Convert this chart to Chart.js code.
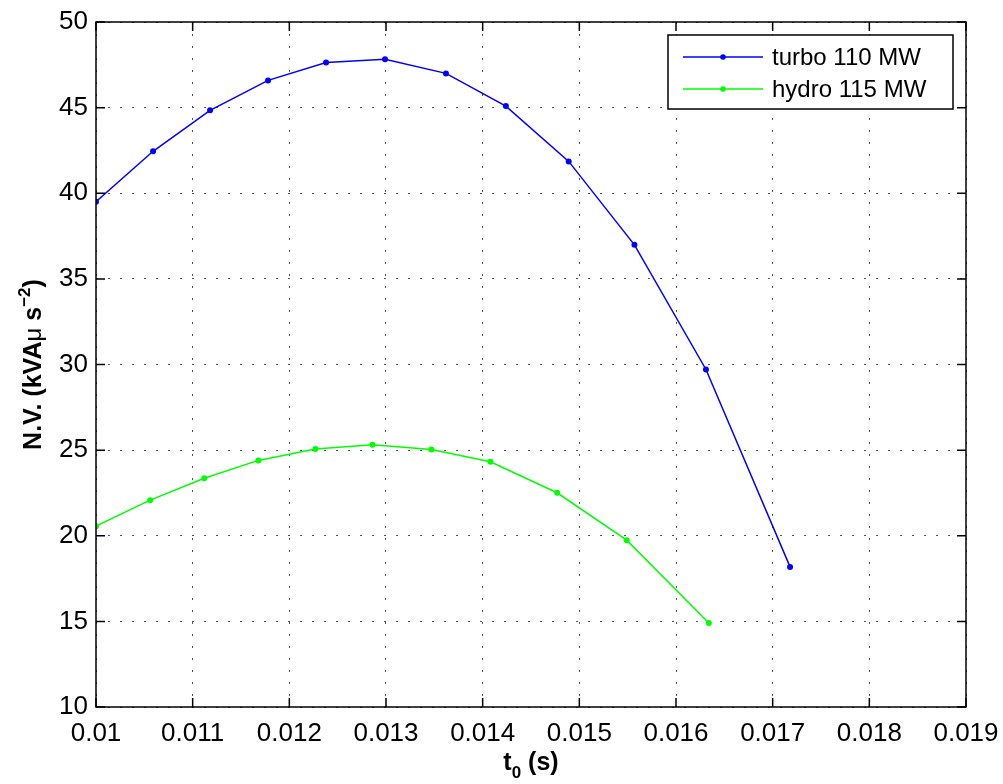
<!DOCTYPE html>
<html>
<head>
<meta charset="utf-8">
<script src="https://cdn.jsdelivr.net/npm/chart.js@4.4.0/dist/chart.umd.min.js"></script>
<style>
body{margin:0;background:#fff;}
</style>
</head>
<body>
<canvas id="myChart" width="1003" height="784"></canvas>
<script>
// values
var t0Turbo = [0.01, 0.01059, 0.01118, 0.01178, 0.01238, 0.01299, 0.01362, 0.01424, 0.01489, 0.01557, 0.01631, 0.01718];
var nvTurbo = [39.5, 42.45, 44.84, 46.59, 47.64, 47.82, 47.0, 45.09, 41.86, 36.99, 29.71, 18.18];
var t0Hydro = [0.01, 0.01056, 0.01112, 0.01168, 0.01227, 0.01286, 0.01347, 0.01408, 0.01477, 0.01549, 0.01634];
var nvHydro = [20.56, 22.08, 23.36, 24.4, 25.06, 25.31, 25.04, 24.32, 22.51, 19.74, 14.91];
var seriesNames = ['turbo 110 MW', 'hydro 115 MW'];
var seriesColors = ['#0000ff', '#00ff00'];
var xTicks = [0.01, 0.011, 0.012, 0.013, 0.014, 0.015, 0.016, 0.017, 0.018, 0.019];
var yTicks = [10, 15, 20, 25, 30, 35, 40, 45, 50];

var FONT = "'Liberation Sans', Arial, Helvetica, sans-serif";
Chart.defaults.font.family = FONT;
Chart.defaults.color = '#000';

function pairs(xs, ys){
    return xs.map(function(x, i){ return {x: x, y: ys[i]}; });
}

// draws a row of text pieces (for sub/superscripts) centred at 0,0
function drawRuns(ctx, runs){
    var total = 0;
    runs.forEach(function(r){ ctx.font = r.font; r.w = ctx.measureText(r.t).width; total += r.w; });
    var x = -total/2;
    runs.forEach(function(r){
        ctx.font = r.font;
        ctx.fillText(r.t, x, r.dy || 0);
        x += r.w;
    });
}

/*....box, inside ticks, legend and axis titles*/
var matlabLook = {
    id: 'matlabLook',
    afterDraw: function(chart){
        var ctx = chart.ctx, a = chart.chartArea;
        var xs = chart.scales.x, ys = chart.scales.y;
        ctx.save();
        ctx.strokeStyle = '#000';
        ctx.lineWidth = 1.5;
        ctx.strokeRect(a.left, a.top, a.right - a.left, a.bottom - a.top);
        ctx.beginPath();
        xTicks.forEach(function(v){
            var p = xs.getPixelForValue(v);
            ctx.moveTo(p, a.bottom); ctx.lineTo(p, a.bottom - 9);
            ctx.moveTo(p, a.top); ctx.lineTo(p, a.top + 9);
        });
        yTicks.forEach(function(v){
            var p = ys.getPixelForValue(v);
            ctx.moveTo(a.left, p); ctx.lineTo(a.left + 9, p);
            ctx.moveTo(a.right, p); ctx.lineTo(a.right - 9, p);
        });
        ctx.stroke();

        // legend
        var lx = 668, ly = 35, lw = 285, lh = 74;
        ctx.fillStyle = '#fff';
        ctx.fillRect(lx, ly, lw, lh);
        ctx.lineWidth = 1.5;
        ctx.strokeStyle = '#000';
        ctx.strokeRect(lx, ly, lw, lh);
        var rows = [57, 89];
        chart.data.datasets.forEach(function(ds, i){
            var y = rows[i];
            ctx.strokeStyle = ds.borderColor;
            ctx.lineWidth = 1.5;
            ctx.beginPath(); ctx.moveTo(683, y); ctx.lineTo(763, y); ctx.stroke();
            ctx.fillStyle = ds.borderColor;
            ctx.beginPath(); ctx.arc(723, y, 2.8, 0, Math.PI*2); ctx.fill();
            ctx.fillStyle = '#000';
            ctx.font = '24px ' + FONT;
            ctx.textBaseline = 'middle';
            ctx.textAlign = 'left';
            ctx.fillText(ds.label, 772, y + 1);
        });

        // axis titles
        ctx.fillStyle = '#000';
        ctx.textAlign = 'left';
        ctx.textBaseline = 'alphabetic';
        ctx.save();
        ctx.translate((a.left + a.right)/2, 770);
        drawRuns(ctx, [
            {t: 't', font: 'bold 25px ' + FONT},
            {t: '0', font: 'bold 17px ' + FONT, dy: 8},
            {t: ' (s)', font: 'bold 25px ' + FONT}
        ]);
        ctx.restore();
        ctx.save();
        ctx.translate(41, (a.top + a.bottom)/2);
        ctx.rotate(-Math.PI/2);
        drawRuns(ctx, [
            {t: 'N.V. (kVA', font: 'bold 25px ' + FONT},
            {t: '\u03bc', font: '24px ' + FONT},
            {t: ' s', font: 'bold 25px ' + FONT},
            {t: '\u22122', font: 'bold 17px ' + FONT, dy: -11},
            {t: ')', font: 'bold 25px ' + FONT}
        ]);
        ctx.restore();
        ctx.restore();
    }
};

var ctx = document.getElementById('myChart').getContext('2d');
var chart = new Chart(ctx, {
    type: 'line',
    data: {
        datasets: [{
            label: seriesNames[0],
            data: pairs(t0Turbo, nvTurbo),
            borderColor: seriesColors[0],
            backgroundColor: seriesColors[0],
            borderWidth: 1.5,
            pointRadius: 3,
            pointBorderWidth: 0,
            tension: 0
        }, {
            label: seriesNames[1],
            data: pairs(t0Hydro, nvHydro),
            borderColor: seriesColors[1],
            backgroundColor: seriesColors[1],
            borderWidth: 1.5,
            pointRadius: 3,
            pointBorderWidth: 0,
            tension: 0
        }]
    },
    options: {
        responsive: false,
        animation: false,
        layout: {padding: {left: 0, top: 22, right: 37, bottom: 0}},
        plugins: {legend: {display: false}, tooltip: {enabled: false}},
        scales: {
            x: {
                type: 'linear',
                min: 0.01,
                max: 0.019,
                afterBuildTicks: function(axis){ axis.ticks = xTicks.map(function(v){ return {value: v}; }); },
                afterFit: function(axis){ axis.height = 77; axis.paddingLeft = 0; axis.paddingRight = 0; },
                ticks: {
                    font: {size: 26},
                    padding: 11,
                    maxRotation: 0,
                    autoSkip: false,
                    callback: function(v){ return String(v); }
                },
                grid: {color: '#555', lineWidth: 1, drawTicks: false, tickLength: 0},
                border: {display: false, dash: [2, 10]}
            },
            y: {
                min: 10,
                max: 50,
                afterBuildTicks: function(axis){ axis.ticks = yTicks.map(function(v){ return {value: v}; }); },
                afterFit: function(axis){ axis.width = 96; axis.paddingTop = 0; axis.paddingBottom = 0; },
                ticks: {font: {size: 26}, padding: 8},
                grid: {color: '#555', lineWidth: 1, drawTicks: false, tickLength: 0},
                border: {display: false, dash: [2, 10]}
            }
        }
    },
    plugins: [matlabLook]
});
</script>
</body>
</html>
